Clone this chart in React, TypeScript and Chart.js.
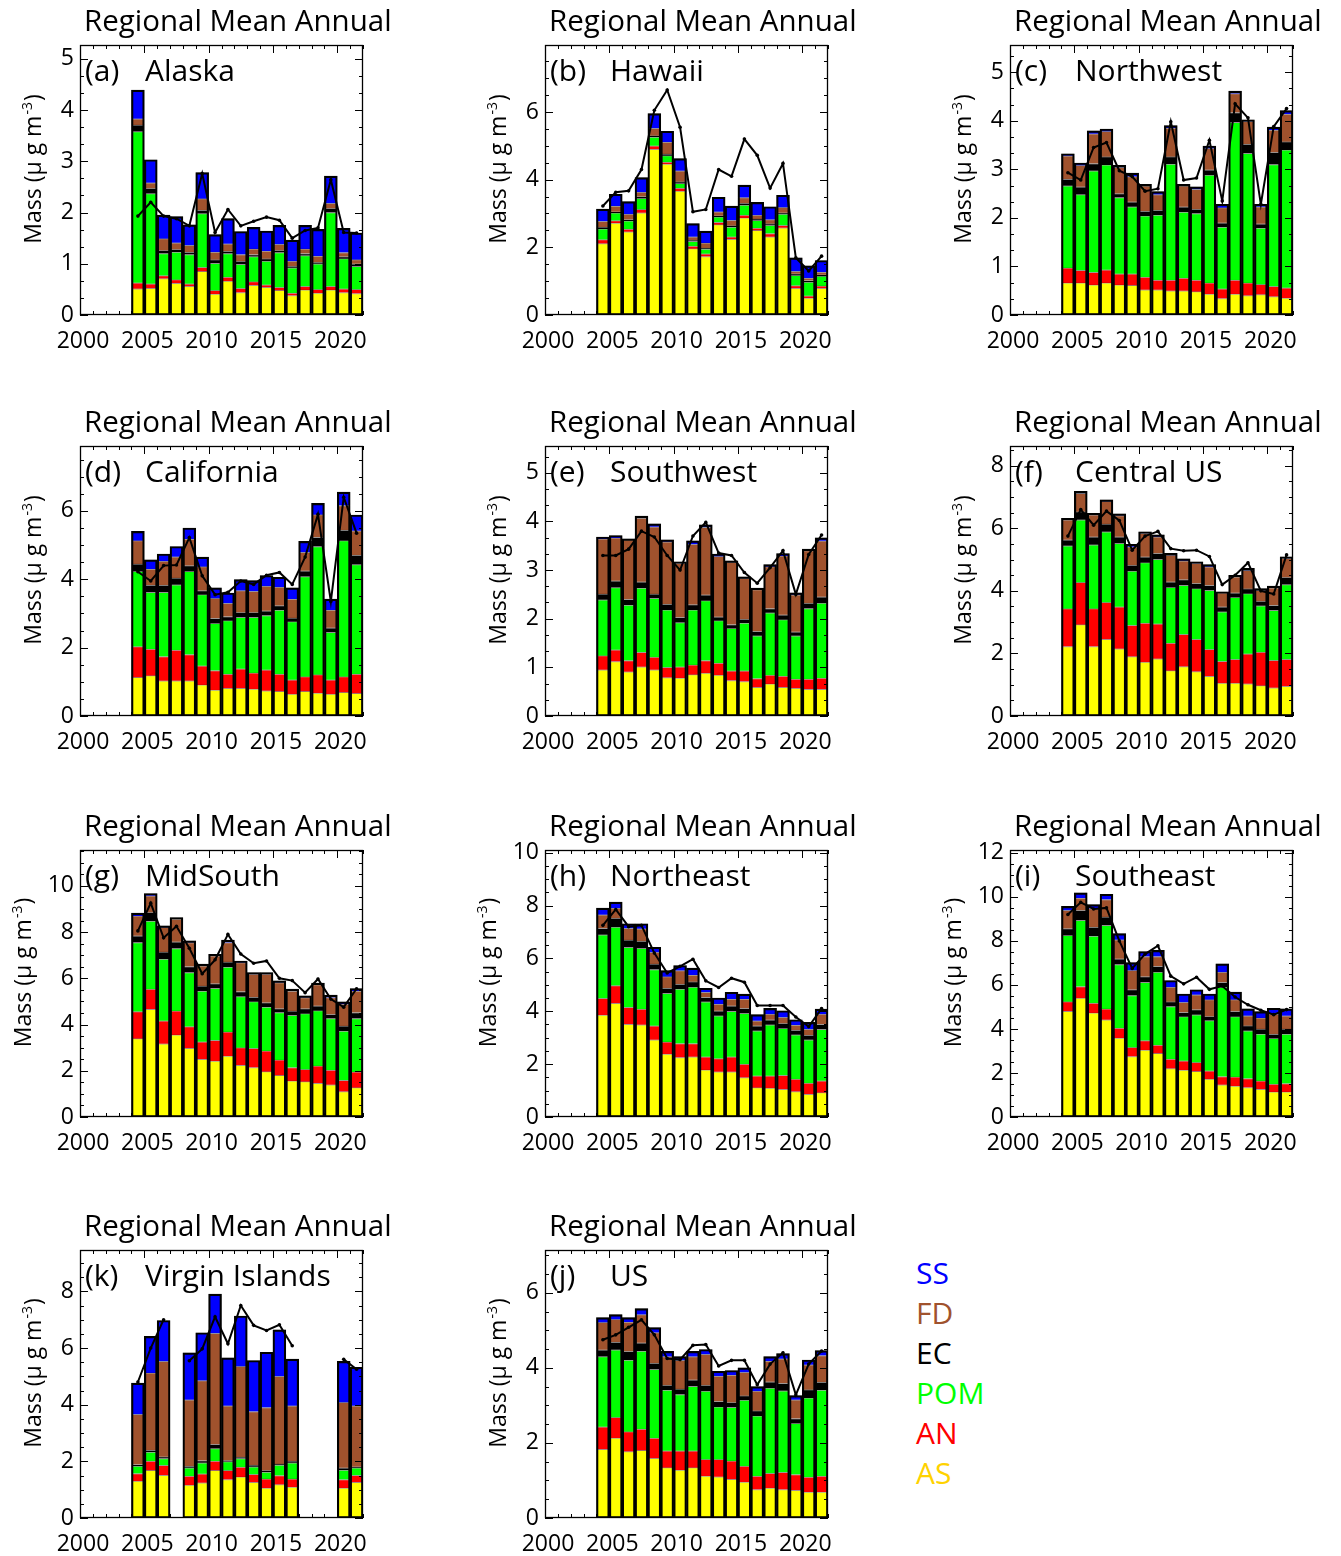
import React, { useEffect, useRef } from "react";
import { Chart, registerables } from "chart.js";

Chart.register(...registerables);

// ---------------- data ----------------
const YEARS = [2004, 2005, 2006, 2007, 2008, 2009, 2010, 2011, 2012, 2013, 2014, 2015, 2016, 2017, 2018, 2019, 2020, 2021];
const COMPONENTS = ["AS", "AN", "POM", "EC", "FD", "SS"];
const LEGEND_ORDER = ["SS", "FD", "EC", "POM", "AN", "AS"];
const X_TICK_LABELS = [2000, 2005, 2010, 2015, 2020];

// cumulative stack tops (AS, AS+AN, ... , total) and the black line, µg m-3
const alaskaTops = {
  AS: [0.51, 0.52, 0.71, 0.62, 0.56, 0.85, 0.41, 0.66, 0.44, 0.58, 0.54, 0.48, 0.38, 0.49, 0.43, 0.49, 0.44, 0.42],
  AN: [0.63, 0.61, 0.77, 0.69, 0.61, 0.93, 0.48, 0.74, 0.52, 0.65, 0.59, 0.54, 0.43, 0.56, 0.5, 0.56, 0.51, 0.5],
  POM: [3.58, 2.37, 1.2, 1.23, 1.18, 1.98, 1.01, 1.2, 0.99, 1.14, 1.05, 1.22, 0.92, 1.16, 1.0, 2.0, 1.1, 0.95],
  EC: [3.71, 2.47, 1.26, 1.28, 1.23, 2.05, 1.08, 1.25, 1.05, 1.18, 1.1, 1.26, 0.95, 1.2, 1.03, 2.08, 1.14, 1.0],
  FD: [3.83, 2.58, 1.49, 1.41, 1.36, 2.27, 1.23, 1.39, 1.18, 1.29, 1.25, 1.38, 1.05, 1.29, 1.15, 2.18, 1.22, 1.08],
  SS: [4.39, 3.03, 1.95, 1.92, 1.76, 2.78, 1.57, 1.88, 1.63, 1.71, 1.64, 1.75, 1.46, 1.75, 1.67, 2.71, 1.69, 1.6],
};
const alaskaLine = [1.93, 2.2, 1.93, 1.88, 1.74, 2.76, 1.61, 2.06, 1.74, 1.83, 1.91, 1.85, 1.5, 1.65, 1.7, 2.64, 1.61, 1.6];

const hawaiiTops = {
  AS: [2.11, 2.72, 2.46, 3.02, 4.9, 4.46, 3.66, 1.96, 1.73, 2.67, 2.24, 2.87, 2.5, 2.31, 2.58, 0.79, 0.5, 0.79],
  AN: [2.23, 2.79, 2.54, 3.12, 5.0, 4.52, 3.75, 2.04, 1.81, 2.74, 2.31, 2.95, 2.57, 2.41, 2.65, 0.87, 0.57, 0.86],
  POM: [2.55, 3.02, 2.78, 3.45, 5.26, 4.71, 3.89, 2.18, 1.95, 2.9, 2.6, 3.25, 2.8, 2.65, 2.98, 1.17, 0.97, 1.15],
  EC: [2.6, 3.05, 2.82, 3.5, 5.3, 4.76, 3.94, 2.21, 1.98, 2.93, 2.64, 3.3, 2.84, 2.7, 3.02, 1.22, 1.02, 1.19],
  FD: [2.77, 3.22, 2.98, 3.63, 5.52, 5.11, 4.26, 2.31, 2.13, 3.05, 2.8, 3.47, 2.95, 2.82, 3.18, 1.29, 1.09, 1.27],
  SS: [3.13, 3.57, 3.35, 4.06, 5.95, 5.43, 4.62, 2.7, 2.48, 3.48, 3.22, 3.84, 3.33, 3.2, 3.54, 1.69, 1.45, 1.61],
};
const hawaiiLine = [3.22, 3.63, 3.67, 4.3, 6.05, 6.65, 5.55, 3.05, 3.12, 4.3, 4.1, 5.2, 4.72, 3.75, 4.48, 1.69, 1.3, 1.74];

const northwestTops = {
  AS: [0.66, 0.66, 0.62, 0.66, 0.62, 0.61, 0.52, 0.52, 0.5, 0.5, 0.48, 0.43, 0.34, 0.43, 0.4, 0.42, 0.38, 0.35],
  AN: [0.97, 0.92, 0.88, 0.93, 0.85, 0.85, 0.78, 0.72, 0.72, 0.76, 0.72, 0.66, 0.54, 0.72, 0.66, 0.63, 0.59, 0.56],
  POM: [2.66, 2.48, 2.97, 3.09, 2.42, 2.23, 2.04, 2.06, 3.11, 2.12, 2.09, 2.88, 1.81, 3.97, 3.33, 1.79, 3.1, 3.4],
  EC: [2.8, 2.64, 3.12, 3.26, 2.5, 2.33, 2.14, 2.16, 3.26, 2.23, 2.18, 2.99, 1.9, 4.17, 3.52, 1.88, 3.35, 3.57],
  FD: [3.28, 3.08, 3.73, 3.78, 3.04, 2.85, 2.66, 2.48, 3.85, 2.66, 2.59, 3.43, 2.21, 4.56, 3.99, 2.23, 3.81, 4.14],
  SS: [3.32, 3.13, 3.79, 3.83, 3.08, 2.92, 2.69, 2.54, 3.9, 2.69, 2.64, 3.48, 2.28, 4.61, 4.02, 2.28, 3.87, 4.21],
};
const northwestLine = [2.93, 2.78, 3.45, 3.55, 2.97, 2.85, 2.55, 2.6, 3.98, 2.78, 2.82, 3.6, 2.35, 4.35, 4.06, 2.28, 3.88, 4.25];

const californiaTops = {
  AS: [1.13, 1.18, 1.03, 1.03, 1.03, 0.91, 0.76, 0.81, 0.81, 0.79, 0.74, 0.72, 0.64, 0.72, 0.67, 0.64, 0.69, 0.66],
  AN: [2.03, 1.96, 1.74, 1.93, 1.8, 1.47, 1.33, 1.23, 1.38, 1.26, 1.35, 1.23, 1.06, 1.15, 1.21, 1.06, 1.15, 1.23],
  POM: [4.23, 3.62, 3.62, 3.84, 4.23, 3.55, 2.71, 2.79, 2.89, 2.89, 2.94, 3.1, 2.76, 4.08, 4.96, 2.45, 5.13, 4.43],
  EC: [4.45, 3.83, 3.83, 4.04, 4.4, 3.67, 2.86, 2.91, 3.03, 3.03, 3.08, 3.23, 2.87, 4.25, 5.23, 2.58, 5.44, 4.71],
  FD: [5.13, 4.3, 4.53, 4.66, 5.18, 4.37, 3.44, 3.3, 3.67, 3.65, 3.8, 3.77, 3.42, 4.79, 5.89, 3.1, 6.16, 5.42],
  SS: [5.4, 4.57, 4.74, 4.96, 5.5, 4.65, 3.75, 3.6, 3.99, 3.96, 4.11, 4.06, 3.75, 5.11, 6.22, 3.42, 6.55, 5.88],
};
const californiaLine = [4.22, 3.95, 4.4, 4.42, 5.22, 4.1, 3.55, 3.62, 3.95, 3.85, 4.12, 4.2, 3.85, 4.65, 5.9, 3.35, 6.4, 5.35];

const southwestTops = {
  AS: [0.95, 1.12, 0.91, 1.01, 0.95, 0.79, 0.78, 0.85, 0.88, 0.84, 0.73, 0.71, 0.59, 0.66, 0.59, 0.57, 0.55, 0.55],
  AN: [1.24, 1.36, 1.14, 1.31, 1.21, 1.0, 1.01, 1.05, 1.14, 1.09, 0.93, 0.93, 0.77, 0.84, 0.82, 0.76, 0.76, 0.78],
  POM: [2.39, 2.64, 2.28, 2.63, 2.42, 2.18, 1.92, 2.18, 2.37, 1.96, 1.8, 1.91, 1.65, 2.12, 1.98, 1.65, 2.21, 2.32],
  EC: [2.51, 2.78, 2.4, 2.76, 2.51, 2.3, 2.03, 2.29, 2.49, 2.04, 1.88, 1.99, 1.74, 2.21, 2.08, 1.73, 2.32, 2.45],
  FD: [3.64, 3.66, 3.62, 4.07, 3.89, 3.58, 3.14, 3.53, 3.88, 3.28, 3.16, 2.83, 2.6, 3.07, 3.29, 2.49, 3.4, 3.6],
  SS: [3.68, 3.71, 3.64, 4.11, 3.95, 3.62, 3.17, 3.6, 3.93, 3.33, 3.19, 2.86, 2.63, 3.11, 3.34, 2.53, 3.43, 3.66],
};
const southwestLine = [3.3, 3.3, 3.43, 3.8, 3.68, 3.3, 3.0, 3.7, 3.98, 3.35, 3.3, 2.95, 2.73, 3.05, 3.4, 2.5, 3.32, 3.72];

const centralTops = {
  AS: [2.22, 2.92, 2.22, 2.45, 2.15, 1.9, 1.72, 1.83, 1.45, 1.58, 1.42, 1.27, 1.05, 1.05, 1.03, 0.97, 0.9, 0.95],
  AN: [3.43, 4.27, 3.43, 3.63, 3.49, 2.9, 2.97, 2.95, 2.33, 2.61, 2.45, 2.13, 1.75, 1.81, 1.99, 2.04, 1.78, 1.81],
  POM: [5.44, 6.27, 5.47, 5.89, 5.52, 4.63, 4.9, 5.01, 4.11, 4.18, 4.07, 4.02, 3.33, 3.79, 3.91, 3.52, 3.38, 4.2],
  EC: [5.63, 6.53, 5.73, 6.14, 5.73, 4.82, 5.09, 5.2, 4.29, 4.36, 4.24, 4.18, 3.49, 3.94, 4.07, 3.67, 3.54, 4.43],
  FD: [6.27, 7.12, 6.43, 6.86, 6.41, 5.41, 5.84, 5.73, 5.14, 4.96, 4.88, 4.77, 3.94, 4.45, 4.66, 4.02, 4.1, 5.04],
  SS: [6.32, 7.18, 6.48, 6.91, 6.46, 5.49, 5.89, 5.79, 5.2, 5.02, 4.93, 4.84, 3.97, 4.5, 4.72, 4.07, 4.15, 5.09],
};
const centralLine = [5.75, 6.6, 6.1, 6.55, 6.25, 5.3, 5.75, 5.9, 5.35, 5.28, 5.3, 5.1, 4.2, 4.5, 4.9, 4.0, 3.9, 5.15];

const midsouthTops = {
  AS: [3.39, 4.66, 3.17, 3.55, 2.97, 2.5, 2.42, 2.64, 2.24, 2.14, 1.96, 1.8, 1.56, 1.53, 1.46, 1.39, 1.1, 1.27],
  AN: [4.56, 5.53, 4.16, 4.59, 3.91, 3.25, 3.32, 3.68, 3.0, 2.97, 2.86, 2.47, 2.14, 2.06, 2.21, 2.03, 1.59, 1.95],
  POM: [7.55, 8.48, 6.83, 7.29, 6.25, 5.45, 5.57, 6.49, 5.21, 4.99, 4.76, 4.52, 4.4, 4.47, 4.6, 4.26, 3.72, 4.26],
  EC: [7.84, 8.85, 7.14, 7.58, 6.51, 5.67, 5.77, 6.71, 5.43, 5.19, 4.95, 4.69, 4.59, 4.69, 4.81, 4.44, 3.94, 4.52],
  FD: [8.7, 9.57, 8.2, 8.56, 7.55, 6.54, 6.97, 7.55, 6.68, 6.18, 6.18, 5.82, 5.45, 5.17, 5.73, 5.17, 4.88, 5.45],
  SS: [8.82, 9.67, 8.27, 8.63, 7.62, 6.61, 7.04, 7.65, 6.75, 6.25, 6.25, 5.89, 5.53, 5.24, 5.79, 5.27, 4.98, 5.56],
};
const midsouthLine = [8.05, 9.25, 7.75, 8.25, 7.3, 6.2, 6.8, 7.9, 7.05, 6.65, 6.75, 6.0, 5.9, 5.38, 5.97, 5.1, 4.75, 5.55];

const northeastTops = {
  AS: [3.86, 4.3, 3.51, 3.49, 2.92, 2.38, 2.25, 2.28, 1.78, 1.71, 1.71, 1.49, 1.11, 1.09, 1.05, 0.96, 0.86, 0.92],
  AN: [4.49, 4.97, 4.15, 4.08, 3.45, 2.84, 2.78, 2.78, 2.28, 2.21, 2.28, 2.0, 1.56, 1.56, 1.58, 1.43, 1.28, 1.37],
  POM: [6.89, 7.18, 6.42, 6.38, 5.58, 4.68, 4.84, 4.91, 4.36, 3.83, 4.0, 3.92, 3.26, 3.49, 3.35, 3.11, 2.92, 3.32],
  EC: [7.14, 7.52, 6.7, 6.65, 5.79, 4.88, 5.03, 5.12, 4.53, 4.02, 4.21, 4.11, 3.45, 3.68, 3.54, 3.29, 3.1, 3.51],
  FD: [7.65, 7.9, 7.14, 7.12, 6.23, 5.31, 5.54, 5.37, 4.72, 4.27, 4.46, 4.46, 3.64, 3.89, 3.77, 3.48, 3.32, 3.89],
  SS: [7.9, 8.13, 7.31, 7.31, 6.42, 5.54, 5.73, 5.63, 4.87, 4.5, 4.72, 4.65, 3.87, 4.11, 4.02, 3.68, 3.58, 4.08],
};
const northeastLine = [7.25, 7.85, 7.2, 7.25, 6.2, 5.45, 5.7, 5.97, 5.15, 4.9, 5.25, 5.1, 4.22, 4.22, 4.22, 3.78, 3.42, 4.1];

const southeastTops = {
  AS: [4.8, 5.4, 4.73, 4.42, 3.59, 2.75, 3.04, 2.89, 2.2, 2.13, 2.07, 1.72, 1.46, 1.41, 1.34, 1.26, 1.14, 1.14],
  AN: [5.24, 5.93, 5.18, 4.91, 4.04, 3.16, 3.47, 3.27, 2.63, 2.55, 2.48, 2.1, 1.84, 1.82, 1.75, 1.64, 1.49, 1.52],
  POM: [8.25, 8.94, 8.22, 8.71, 6.93, 5.52, 6.12, 6.58, 5.02, 4.56, 4.64, 4.38, 5.9, 4.56, 3.92, 3.77, 3.57, 3.77],
  EC: [8.56, 9.39, 8.63, 9.09, 7.19, 5.79, 6.38, 6.85, 5.24, 4.76, 4.88, 4.57, 6.12, 4.8, 4.15, 4.0, 3.77, 4.0],
  FD: [9.39, 9.95, 9.47, 9.88, 8.05, 6.66, 7.29, 7.29, 5.9, 5.21, 5.55, 5.33, 6.58, 5.33, 4.6, 4.5, 4.68, 4.6],
  SS: [9.57, 10.18, 9.65, 10.12, 8.33, 7.01, 7.52, 7.57, 6.2, 5.59, 5.78, 5.59, 6.96, 5.67, 4.91, 4.79, 4.94, 4.91],
};
const southeastLine = [9.2, 9.75, 9.45, 9.5, 8.0, 6.75, 7.4, 7.78, 6.4, 6.05, 6.35, 5.8, 5.95, 5.45, 5.1, 4.85, 4.65, 4.88];

const virginTops = {
  AS: [1.3, 1.68, 1.51, null, 1.16, 1.24, 1.68, 1.36, 1.45, 1.26, 1.06, 1.18, 1.09, null, null, null, 1.06, 1.26],
  AN: [1.57, 2.01, 1.86, null, 1.48, 1.56, 2.01, 1.68, 1.8, 1.54, 1.38, 1.5, 1.38, null, null, null, 1.36, 1.51],
  POM: [1.83, 2.33, 2.1, null, 1.77, 1.95, 2.45, 1.99, 2.1, 1.81, 1.62, 1.87, 1.95, null, null, null, 1.69, 1.77],
  EC: [1.89, 2.4, 2.16, null, 1.83, 2.03, 2.6, 2.03, 2.15, 1.87, 1.68, 1.91, 2.01, null, null, null, 1.77, 1.81],
  FD: [3.66, 5.12, 5.53, null, 4.17, 4.85, 6.52, 3.96, 5.35, 3.76, 3.9, 5.0, 3.96, null, null, null, 4.08, 3.96],
  SS: [4.76, 6.41, 6.97, null, 5.83, 6.54, 7.9, 5.65, 7.13, 5.56, 5.85, 6.64, 5.61, null, null, null, 5.53, 5.32],
};
const virginLine = [4.8, 6.0, 7.0, null, 5.55, 5.97, 7.1, 6.15, 7.5, 6.8, 6.62, 6.82, 6.08, null, null, null, 5.6, 5.25];

const usTops = {
  AS: [1.83, 2.13, 1.77, 1.8, 1.59, 1.34, 1.28, 1.34, 1.12, 1.1, 1.03, 0.96, 0.76, 0.8, 0.76, 0.74, 0.69, 0.69],
  AN: [2.43, 2.68, 2.3, 2.37, 2.13, 1.79, 1.79, 1.79, 1.56, 1.56, 1.52, 1.38, 1.12, 1.19, 1.22, 1.16, 1.09, 1.12],
  POM: [4.3, 4.48, 4.21, 4.45, 3.96, 3.41, 3.29, 3.51, 3.38, 2.96, 2.95, 3.14, 2.72, 3.46, 3.39, 2.52, 3.2, 3.41],
  EC: [4.48, 4.69, 4.44, 4.67, 4.13, 3.54, 3.44, 3.68, 3.54, 3.11, 3.08, 3.26, 2.86, 3.63, 3.59, 2.65, 3.42, 3.62],
  FD: [5.21, 5.29, 5.22, 5.42, 4.94, 4.3, 4.2, 4.3, 4.36, 3.78, 3.81, 3.88, 3.38, 4.18, 4.24, 3.15, 4.08, 4.33],
  SS: [5.34, 5.42, 5.34, 5.58, 5.07, 4.44, 4.3, 4.44, 4.49, 3.91, 3.93, 4.0, 3.5, 4.3, 4.38, 3.26, 4.21, 4.46],
};
const usLine = [4.75, 4.88, 5.08, 5.28, 4.88, 4.25, 4.22, 4.6, 4.62, 4.05, 4.2, 4.2, 3.55, 4.1, 4.4, 3.28, 4.1, 4.45];

// y-axis ranges per panel
const PANELS = [
  { letter: "a", name: "Alaska", tops: alaskaTops, line: alaskaLine, ymax: 5.27, step: 1 },
  { letter: "b", name: "Hawaii", tops: hawaiiTops, line: hawaiiLine, ymax: 7.98, step: 2 },
  { letter: "c", name: "Northwest", tops: northwestTops, line: northwestLine, ymax: 5.56, step: 1 },
  { letter: "d", name: "California", tops: californiaTops, line: californiaLine, ymax: 7.9, step: 2 },
  { letter: "e", name: "Southwest", tops: southwestTops, line: southwestLine, ymax: 5.55, step: 1 },
  { letter: "f", name: "Central US", tops: centralTops, line: centralLine, ymax: 8.63, step: 2 },
  { letter: "g", name: "MidSouth", tops: midsouthTops, line: midsouthLine, ymax: 11.55, step: 2 },
  { letter: "h", name: "Northeast", tops: northeastTops, line: northeastLine, ymax: 10.1, step: 2 },
  { letter: "i", name: "Southeast", tops: southeastTops, line: southeastLine, ymax: 12.13, step: 2 },
  { letter: "k", name: "Virgin Islands", tops: virginTops, line: virginLine, ymax: 9.46, step: 2 },
  { letter: "j", name: "US", tops: usTops, line: usLine, ymax: 7.14, step: 2 },
];

// ---------------- style / layout ----------------
const COLORS: Record<string, string> = {
  AS: "#FFFF00",
  AN: "#FF0000",
  POM: "#00FF00",
  EC: "#000000",
  FD: "#A0522D",
  SS: "#0000FF",
};
const LEGEND_COLORS: Record<string, string> = { ...COLORS, AS: "#FFD200" };
const FONT = '"Open Sans", "Noto Sans", sans-serif';
const COL_LEFTS = [80, 545, 1010];
const ROW_TOPS = [45, 446, 850, 1250];
const ROW_HEIGHTS = [270, 270, 267, 268];
const PLOT_W = 283;
const AXIS_W = 80;
const PAD_TOP = 45;
const AXIS_H = 60;
const CANVAS_W = 400;

const decorPlugin = {
  id: "decor",
  afterDraw(chart: any) {
    const { ctx, chartArea: ca, scales } = chart;
    const p = chart.options.plugins.decor;
    const ys = scales.y;
    const xs = scales.x;
    ctx.save();
    ctx.strokeStyle = "#000";
    ctx.lineWidth = 1.3;
    ctx.strokeRect(ca.left + 0.5, ca.top + 0.5, ca.right - ca.left - 1, ca.bottom - ca.top - 1);
    // y ticks (inward, both sides)
    const minorN = p.step === 1 ? 3 : 4;
    const sub = p.step / minorN;
    ctx.lineWidth = 1;
    for (let k = 0; k * sub <= p.ymax + 1e-9; k++) {
      const v = k * sub;
      const py = Math.round(ys.getPixelForValue(v)) + 0.5;
      const len = k % minorN === 0 ? 8 : 4;
      ctx.beginPath();
      ctx.moveTo(ca.left, py);
      ctx.lineTo(ca.left + len, py);
      ctx.moveTo(ca.right, py);
      ctx.lineTo(ca.right - len, py);
      ctx.stroke();
    }
    // x ticks
    for (let yr = 2000; yr <= 2022; yr++) {
      const px = Math.round(xs.getPixelForValue(yr)) + 0.5;
      const len = yr % 5 === 0 ? 8 : 4;
      ctx.beginPath();
      ctx.moveTo(px, ca.bottom);
      ctx.lineTo(px, ca.bottom - len);
      ctx.moveTo(px, ca.top);
      ctx.lineTo(px, ca.top + len);
      ctx.stroke();
    }
    // texts
    ctx.fillStyle = "#000";
    ctx.textAlign = "left";
    ctx.textBaseline = "alphabetic";
    ctx.font = `29.5px ${FONT}`;
    ctx.fillText("Regional Mean Annual", ca.left + 4, ca.top - 14);
    ctx.font = `30px ${FONT}`;
    ctx.fillText(`(${p.letter})`, ca.left + 5, ca.top + 36);
    ctx.fillText(p.name, ca.left + 65, ca.top + 36);
    // y title with superscript
    ctx.save();
    ctx.translate(ca.left + p.ytOff, (ca.top + ca.bottom) / 2 - 10);
    ctx.rotate(-Math.PI / 2);
    const big = `23px ${FONT}`;
    const small = `14px ${FONT}`;
    ctx.font = big;
    const wA = ctx.measureText("Mass (μ g m").width;
    const wC = ctx.measureText(")").width;
    ctx.font = small;
    const wB = ctx.measureText("-3").width;
    let sx = -(wA + wB + wC) / 2;
    ctx.font = big;
    ctx.fillText("Mass (μ g m", sx, 8);
    ctx.font = small;
    ctx.fillText("-3", sx + wA + 1, -1);
    ctx.font = big;
    ctx.fillText(")", sx + wA + wB + 2, 8);
    ctx.restore();
    ctx.restore();
  },
};

function PanelChart({ panel, row, col }: { panel: any; row: number; col: number }) {
  const ref = useRef<HTMLCanvasElement>(null);
  const plotH = ROW_HEIGHTS[row];
  const canvasH = PAD_TOP + plotH + AXIS_H;
  const left = COL_LEFTS[col] - AXIS_W;
  const top = ROW_TOPS[row] - PAD_TOP;

  useEffect(() => {
    const datasets: any[] = [];
    datasets.push({
      type: "line",
      data: YEARS.map((yr, i) => ({ x: yr + 0.5, y: panel.line[i] })),
      borderColor: "#000",
      borderWidth: 2,
      pointRadius: 1.8,
      pointBackgroundColor: "#000",
      pointBorderWidth: 0,
      spanGaps: false,
      order: 0,
    });
    datasets.push({
      type: "bar",
      data: YEARS.map((yr, i) => ({ x: yr + 0.5, y: panel.tops.SS[i] == null ? null : [0, panel.tops.SS[i]] })).filter((d) => d.y !== null),
      backgroundColor: "rgba(0,0,0,0)",
      borderColor: "#000",
      borderWidth: 1.5,
      borderSkipped: false,
      order: 1,
    });
    COMPONENTS.forEach((c, ci) => {
      const data = YEARS.map((yr, i) => {
        const hi = panel.tops[c][i];
        if (hi == null) return null;
        const lo = ci === 0 ? 0 : panel.tops[COMPONENTS[ci - 1]][i];
        return { x: yr + 0.5, y: [lo, hi] };
      }).filter((d) => d !== null);
      datasets.push({
        type: "bar",
        label: c,
        data,
        backgroundColor: COLORS[c],
        borderColor: "rgba(0,0,0,0.35)",
        borderWidth: 1,
        borderSkipped: "start",
        order: 2,
      });
    });

    const chart = new Chart(ref.current as HTMLCanvasElement, {
      type: "bar",
      data: { datasets },
      plugins: [decorPlugin],
      options: {
        animation: false,
        responsive: false,
        devicePixelRatio: 1,
        layout: { padding: { top: PAD_TOP, right: CANVAS_W - AXIS_W - PLOT_W, left: 0, bottom: 0 } },
        datasets: { bar: { grouped: false, barPercentage: 1, categoryPercentage: 1 } },
        plugins: {
          legend: { display: false },
          tooltip: { enabled: false },
          decor: { letter: panel.letter, name: panel.name, ymax: panel.ymax, step: panel.step, ytOff: panel.ymax >= 10 ? -57 : -47 },
        } as any,
        scales: {
          x: {
            type: "linear",
            min: 2000,
            max: 2022,
            offset: false,
            grid: { display: false, drawTicks: false, offset: false },
            border: { display: false },
            afterFit: (s: any) => {
              s.height = AXIS_H;
            },
            afterBuildTicks: (s: any) => {
              s.ticks = X_TICK_LABELS.map((v) => ({ value: v }));
            },
            ticks: {
              autoSkip: false,
              maxRotation: 0,
              padding: 13,
              labelOffset: 3,
              color: "#000",
              font: { family: FONT, size: 23 },
              callback: (v: any) => String(v),
            },
          },
          y: {
            type: "linear",
            min: 0,
            max: panel.ymax,
            grid: { display: false, drawTicks: false },
            border: { display: false },
            afterFit: (s: any) => {
              s.width = AXIS_W;
            },
            ticks: {
              stepSize: panel.step,
              includeBounds: false,
              autoSkip: false,
              padding: 6,
              color: "#000",
              font: { family: FONT, size: 23 },
              callback: (v: any) => String(v),
            },
          },
        },
      } as any,
    });
    return () => chart.destroy();
  }, []);

  return (
    <canvas
      ref={ref}
      width={CANVAS_W}
      height={canvasH}
      style={{ position: "absolute", left, top, width: CANVAS_W, height: canvasH }}
    />
  );
}

export default function App() {
  return (
    <div style={{ position: "absolute", left: 0, top: 0, width: 1341, height: 1556, overflow: "hidden", background: "#fff" }}>
      {PANELS.map((p, i) => (
        <PanelChart key={p.letter} panel={p} row={Math.floor(i / 3)} col={i % 3} />
      ))}
      {LEGEND_ORDER.map((c, i) => (
        <div
          key={c}
          style={{
            position: "absolute",
            left: 916,
            top: 1258 + i * 40,
            font: `30px ${FONT}`,
            lineHeight: "30px",
            color: LEGEND_COLORS[c],
          }}
        >
          {c}
        </div>
      ))}
    </div>
  );
}
